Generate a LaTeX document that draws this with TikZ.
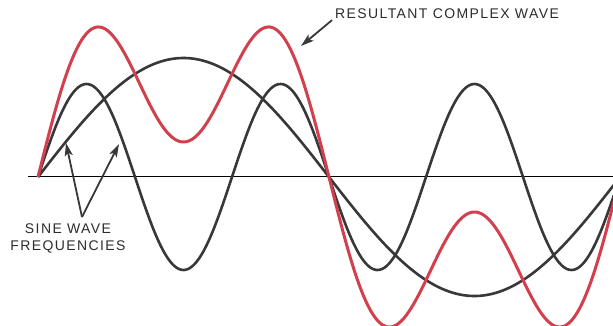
\documentclass[tikz,border=0pt]{standalone}
\usepackage{fontspec}
\newfontfamily\lblfont[LetterSpace=10]{Liberation Sans}
\usetikzlibrary{arrows.meta}
\definecolor{wavegray}{HTML}{383838}
\definecolor{wavered}{HTML}{D2404E}
\definecolor{lblgray}{HTML}{2C2C2C}
\begin{document}
\begin{tikzpicture}[x=1pt,y=-1pt,
  axisline/.style={line width=1.4pt,black},
  sinewave/.style={line width=2.6pt,wavegray,line join=round},
  resultwave/.style={line width=3pt,wavered,line join=round},
  lbl/.style={font=\lblfont\fontsize{14}{17}\selectfont,text=lblgray,inner sep=0pt},
  pointer/.style={line width=1.8pt,wavegray,-{Stealth[length=13pt,width=8pt,inset=3pt]}}]
\useasboundingbox[fill=white] (0,0) rectangle (613,326);
\draw[axisline] (28,176.5) -- (613,176.5);
\begin{scope}
\clip (0,0) rectangle (613,326);
\draw[sinewave] plot[domain=38:614,samples=250,smooth] (\x,{177-119*sin((\x-38)/582*360)});
\draw[sinewave] plot[domain=38:614,samples=300,smooth] (\x,{177-93*sin(3*(\x-38)/582*360)});
\draw[resultwave] plot[domain=38:614,samples=300,smooth] (\x,{177-119*sin((\x-38)/582*360)-84*sin(3*(\x-38)/582*360)});
\end{scope}
\node[lbl,anchor=west] (res) at (335,14) {RESULTANT COMPLEX WAVE};
\coordinate (restip) at (301,46);
\draw[pointer] ([xshift=-3pt,yshift=-1pt]res.south west) -- (restip);
\node[lbl,align=center] (sine) at (68,238) {SINE WAVE\\FREQUENCIES};
\coordinate (apex) at (82,217);
\coordinate (tipA) at (66,143);
\coordinate (tipB) at (119,144);
\draw[pointer] (apex) -- (tipA);
\draw[pointer] (apex) -- (tipB);
\end{tikzpicture}
\end{document}
